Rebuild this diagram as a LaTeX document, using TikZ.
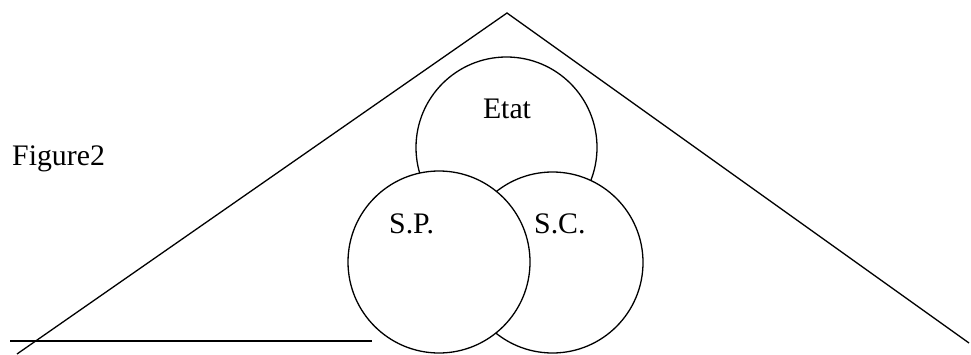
\documentclass[tikz,border=0pt]{standalone}
\usepackage{fontspec}
\setmainfont{Liberation Serif}
\usetikzlibrary{positioning,calc}
\tikzset{
    cercle/.style={
        circle,
        draw=black, line width=1.3pt,
        fill=white,
        inner sep=0pt,
        minimum size=181pt
    },
    trait/.style={draw, line width=1.3pt},
    etiquette/.style={
        inner sep=0pt,
        anchor=base west,
        font=\fontsize{29.8}{34}\selectfont
    }
}
\begin{document}
\begin{tikzpicture}[x=1pt,y=1pt]
                \useasboundingbox (0,0) rectangle (971,354);

                % -- Triangle et trait -- %
                \coordinate (sommet) at (507,341);
                \coordinate (basegauche) at (17,0);
                \coordinate (basedroite) at (969,11);
                \coordinate (traitA) at (10,13);
                \coordinate (traitB) at (372,13);
                \draw[trait] (basegauche) -- (sommet) -- (basedroite);
                \draw[trait] (traitA) -- (traitB);

                % -- Cercles -- %
                \node[cercle] (etat) at (506.5,206.5) {};
                \node[cercle] (sc) at (552.5,91.5) {};
                \node[cercle, minimum size=182pt] (sp) at (439,92) {};

                % -- Textes -- %
                \node[etiquette, anchor=base] (etatlbl) at ($(etat.center)+(0.5,28.5)$) {Etat};
                \node[etiquette] (splbl) at ($(sp.center)+(-50,29)$) {S.P.};
                \node[etiquette] (sclbl) at ($(sc.center)+(-18.5,29.5)$) {S.C.};
                \node[etiquette] (titre) at (12,189) {Figure2};
\end{tikzpicture}
\end{document}
